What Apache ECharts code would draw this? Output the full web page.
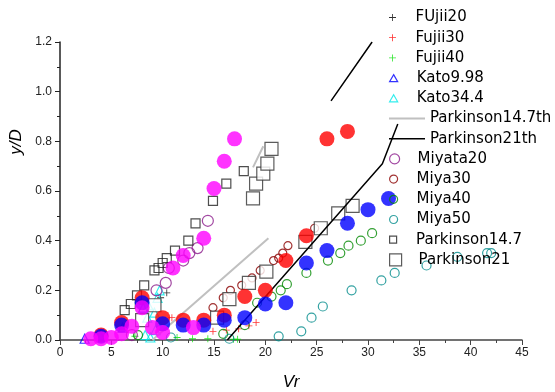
<!DOCTYPE html>
<html>
<head>
<meta charset="utf-8">
<script src="https://cdn.jsdelivr.net/npm/echarts@6/dist/echarts.min.js"></script>
<style>
  html, body { margin: 0; padding: 0; background: #fff; }
  #chart { width: 555px; height: 392px; }
</style>
</head>
<body>
<div id="chart"></div>
<script>
// data, [Vr, y/D]
const fujii20 = [[9.8, 0.17], [10.4, 0.19]]
const fujii30 = [[10.9, 0.09], [14.9, 0.035], [16.2, 0.04], [17.4, 0.045], [18.4, 0.057], [19.1, 0.07]]
const fujii40 = [[7.3, 0.015], [11.4, 0.01], [12.9, 0.005], [14.4, 0.005], [16.9, 0.003], [17.3, 0.003]]
const kato998 = [[2.4, 0.005], [3.9, 0.02], [6.1, 0.05], [8.1, 0.13]]
const kato344 = [[8.3, 0.02], [8.8, 0.01], [9.3, 0.04], [8.5, 0.09], [9.2, 0.11], [8.6, 0.14], [9.5, 0.17], [9.7, 0.2]]
const park147th = [[9.0, 0.0], [20.3, 0.41], ['-', '-'], [18.8, 0.695], [19.8, 0.78]]
const park21th = [[16.3, 0.0], [31.4, 0.71], [32.9, 0.87], ['-', '-'], [26.4, 0.963], [30.4, 1.2]]
const miyata20 = [[7.0, 0.02], [9.4, 0.2], [10.3, 0.23], [10.6, 0.29], [12.0, 0.32], [12.6, 0.35], [13.4, 0.37], [14.4, 0.48]]
const miya30 = [[14.9, 0.13], [15.9, 0.17], [16.6, 0.2], [17.7, 0.22], [18.7, 0.25], [19.5, 0.28], [20.8, 0.32], [21.3, 0.33], [21.7, 0.35], [22.2, 0.38], [24.8, 0.45]]
const miya40 = [[7.6, 0.02], [15.9, 0.025], [18.0, 0.06], [19.2, 0.15], [20.6, 0.175], [21.5, 0.2], [22.1, 0.225], [24.0, 0.27], [26.1, 0.32], [27.3, 0.35], [28.1, 0.38], [29.3, 0.4], [30.4, 0.43]]
const miya50 = [[10.8, 0.01], [16.5, 0.005], [21.3, 0.015], [23.5, 0.035], [24.5, 0.09], [25.6, 0.135], [28.4, 0.2], [31.3, 0.24], [32.6, 0.27], [35.7, 0.3], [38.7, 0.335], [41.6, 0.35], [42.0, 0.35]]
const park147 = [[6.3, 0.12], [6.9, 0.145], [7.5, 0.18], [8.2, 0.22], [9.2, 0.28], [9.6, 0.29], [10.0, 0.31], [10.4, 0.33], [11.2, 0.36], [12.5, 0.4], [13.2, 0.47], [14.9, 0.56], [16.2, 0.63], [17.9, 0.68]]
const park21 = [[8.0, 0.08], [9.2, 0.14], [15.3, 0.09], [16.5, 0.165], [18.4, 0.23], [20.1, 0.275], [18.8, 0.57], [19.1, 0.63], [19.8, 0.67], [20.2, 0.71], [20.6, 0.77], [23.9, 0.395], [25.4, 0.45], [27.1, 0.51], [28.5, 0.54]]
const redDots = [[4, 0.02], [6, 0.07], [8, 0.17], [10, 0.09], [12, 0.08], [14, 0.08], [16, 0.1], [18, 0.175], [20, 0.2], [22, 0.32], [24, 0.42], [26, 0.81], [28, 0.84]]
const blueDots = [[4, 0.015], [6, 0.06], [8, 0.15], [10, 0.065], [12, 0.06], [14, 0.06], [16, 0.08], [18, 0.09], [20, 0.145], [22, 0.15], [24, 0.31], [26, 0.36], [28, 0.47], [30, 0.525], [32, 0.57]]
const magentaDots = [[3, 0.005], [4, 0.005], [5, 0.01], [6, 0.025], [7, 0.055], [8, 0.13], [9, 0.05], [10, 0.03], [11, 0.29], [12, 0.34], [13, 0.05], [14, 0.41], [15, 0.61], [16, 0.72], [17, 0.81]]

const legendNames = ['FUjii20', 'Fujii30', 'Fujii40', 'Kato9.98', 'Kato34.4', 'Parkinson14.7th', 'Parkinson21th',
  'Miyata20', 'Miya30', 'Miya40', 'Miya50', 'Parkinson14.7', 'Parkinson21']

const plus = 'path://M4.4,0h1.2v4.4h4.4v1.2h-4.4v4.4h-1.2v-4.4h-4.4v-1.2h4.4z'
const tri = 'path://M5,0L10,8.66L0,8.66Z'
const box = 'path://M0,0H10V10H0Z'

function marks(name, data, symbol, size, color, fill, zl) {
  const hollow = fill !== undefined
  return {
    name,
    type: 'scatter',
    data,
    symbol,
    symbolSize: size,
    symbolKeepAspect: true,
    z: zl || 2,
    itemStyle: hollow
      ? { color: fill, borderColor: color, borderWidth: 1.2 }
      : { color }
  }
}

function line(name, data, color, width) {
  return {
    name,
    type: 'line',
    data,
    symbol: 'none',
    showSymbol: false,
    connectNulls: false,
    lineStyle: { color, width },
    itemStyle: { color }
  }
}

const series = [
  line('Parkinson14.7th', park147th, '#c0c0c0', 2),
  line('Parkinson21th', park21th, '#000000', 1.5),
  marks('FUjii20', fujii20, plus, 7, '#000000'),
  marks('Fujii30', fujii30, plus, 7, '#ff0000'),
  marks('Fujii40', fujii40, plus, 7, '#00e000'),
  marks('Kato9.98', kato998, 'triangle', 9, '#0000ff', 'transparent'),
  marks('Kato34.4', kato344, 'triangle', 9, '#00e8e8', 'transparent'),
  marks('Miyata20', miyata20, 'circle', 11, '#8b1a8b', 'transparent'),
  marks('Miya30', miya30, 'circle', 8, '#8b0000', 'transparent'),
  marks('Miya40', miya40, 'circle', 9, '#008800', 'transparent'),
  marks('Miya50', miya50, 'circle', 9, '#008b8b', 'transparent'),
  marks('Parkinson14.7', park147, 'rect', 9, '#222222', 'transparent'),
  marks('Parkinson21', park21, 'rect', 13, '#333333', '#ffffff'),
  marks('red', redDots, 'circle', 15, '#ff0000', undefined, 3),
  marks('blue', blueDots, 'circle', 15, '#0000ff', undefined, 3),
  marks('magenta', magentaDots, 'circle', 15, '#ff00ff', undefined, 3)
]

const legendSizes = [7, 7, 7, 7, 7, 14, 14, 10, 8, 8, 8, 7, 12]
const legendIcons = [null, null, null, tri, tri, 'path://M0,0h36v2h-36z', 'path://M0,0h36v1.5h-36z',
  null, null, null, null, box, box]

const legends = legendNames.map((name, i) => {
  const item = { name }
  if (legendIcons[i]) item.icon = legendIcons[i]
  return {
    data: [item],
    orient: 'vertical',
    left: 389,
    top: 10 + i * 20.2,
    padding: 0,
    itemWidth: 36,
    itemHeight: legendSizes[i],
    selectedMode: false,
    itemStyle: { borderWidth: 1.2 },
    textStyle: { fontFamily: 'DejaVu Sans', fontSize: 15, color: '#000' }
  }
})

const chart = echarts.init(document.getElementById('chart'))
chart.setOption({
  animation: false,
  backgroundColor: '#fff',
  grid: { left: 60, right: 33, top: 42, bottom: 52, outerBoundsMode: 'none' },
  legend: legends,
  xAxis: {
    type: 'value',
    min: 0,
    max: 45,
    interval: 5,
    name: 'Vr',
    nameLocation: 'middle',
    nameGap: 34,
    nameTextStyle: { fontFamily: 'Liberation Sans', fontStyle: 'italic', fontSize: 17, color: '#000' },
    axisLine: { lineStyle: { color: '#444', width: 1.5 } },
    axisTick: { length: 5, lineStyle: { color: '#444' } },
    minorTick: { show: true, splitNumber: 2, length: 3, lineStyle: { color: '#444' } },
    axisLabel: { fontFamily: 'Liberation Sans', fontSize: 12, color: '#222', margin: 7 },
    splitLine: { show: false }
  },
  yAxis: {
    type: 'value',
    min: 0,
    max: 1.2,
    interval: 0.2,
    name: 'y/D',
    nameLocation: 'middle',
    nameGap: 30,
    nameTextStyle: { fontFamily: 'Liberation Sans', fontStyle: 'italic', fontSize: 17, color: '#000', padding: [0, 0, 0, 98] },
    axisLine: { show: true, lineStyle: { color: '#222', width: 1.5 } },
    axisTick: { show: true, length: 5, lineStyle: { color: '#222' } },
    minorTick: { show: true, splitNumber: 2, length: 3, lineStyle: { color: '#222' } },
    axisLabel: { fontFamily: 'Liberation Sans', fontSize: 12, color: '#222', margin: 8, formatter: v => v.toFixed(1) },
    splitLine: { show: false }
  },
  series
})
</script>
</body>
</html>
